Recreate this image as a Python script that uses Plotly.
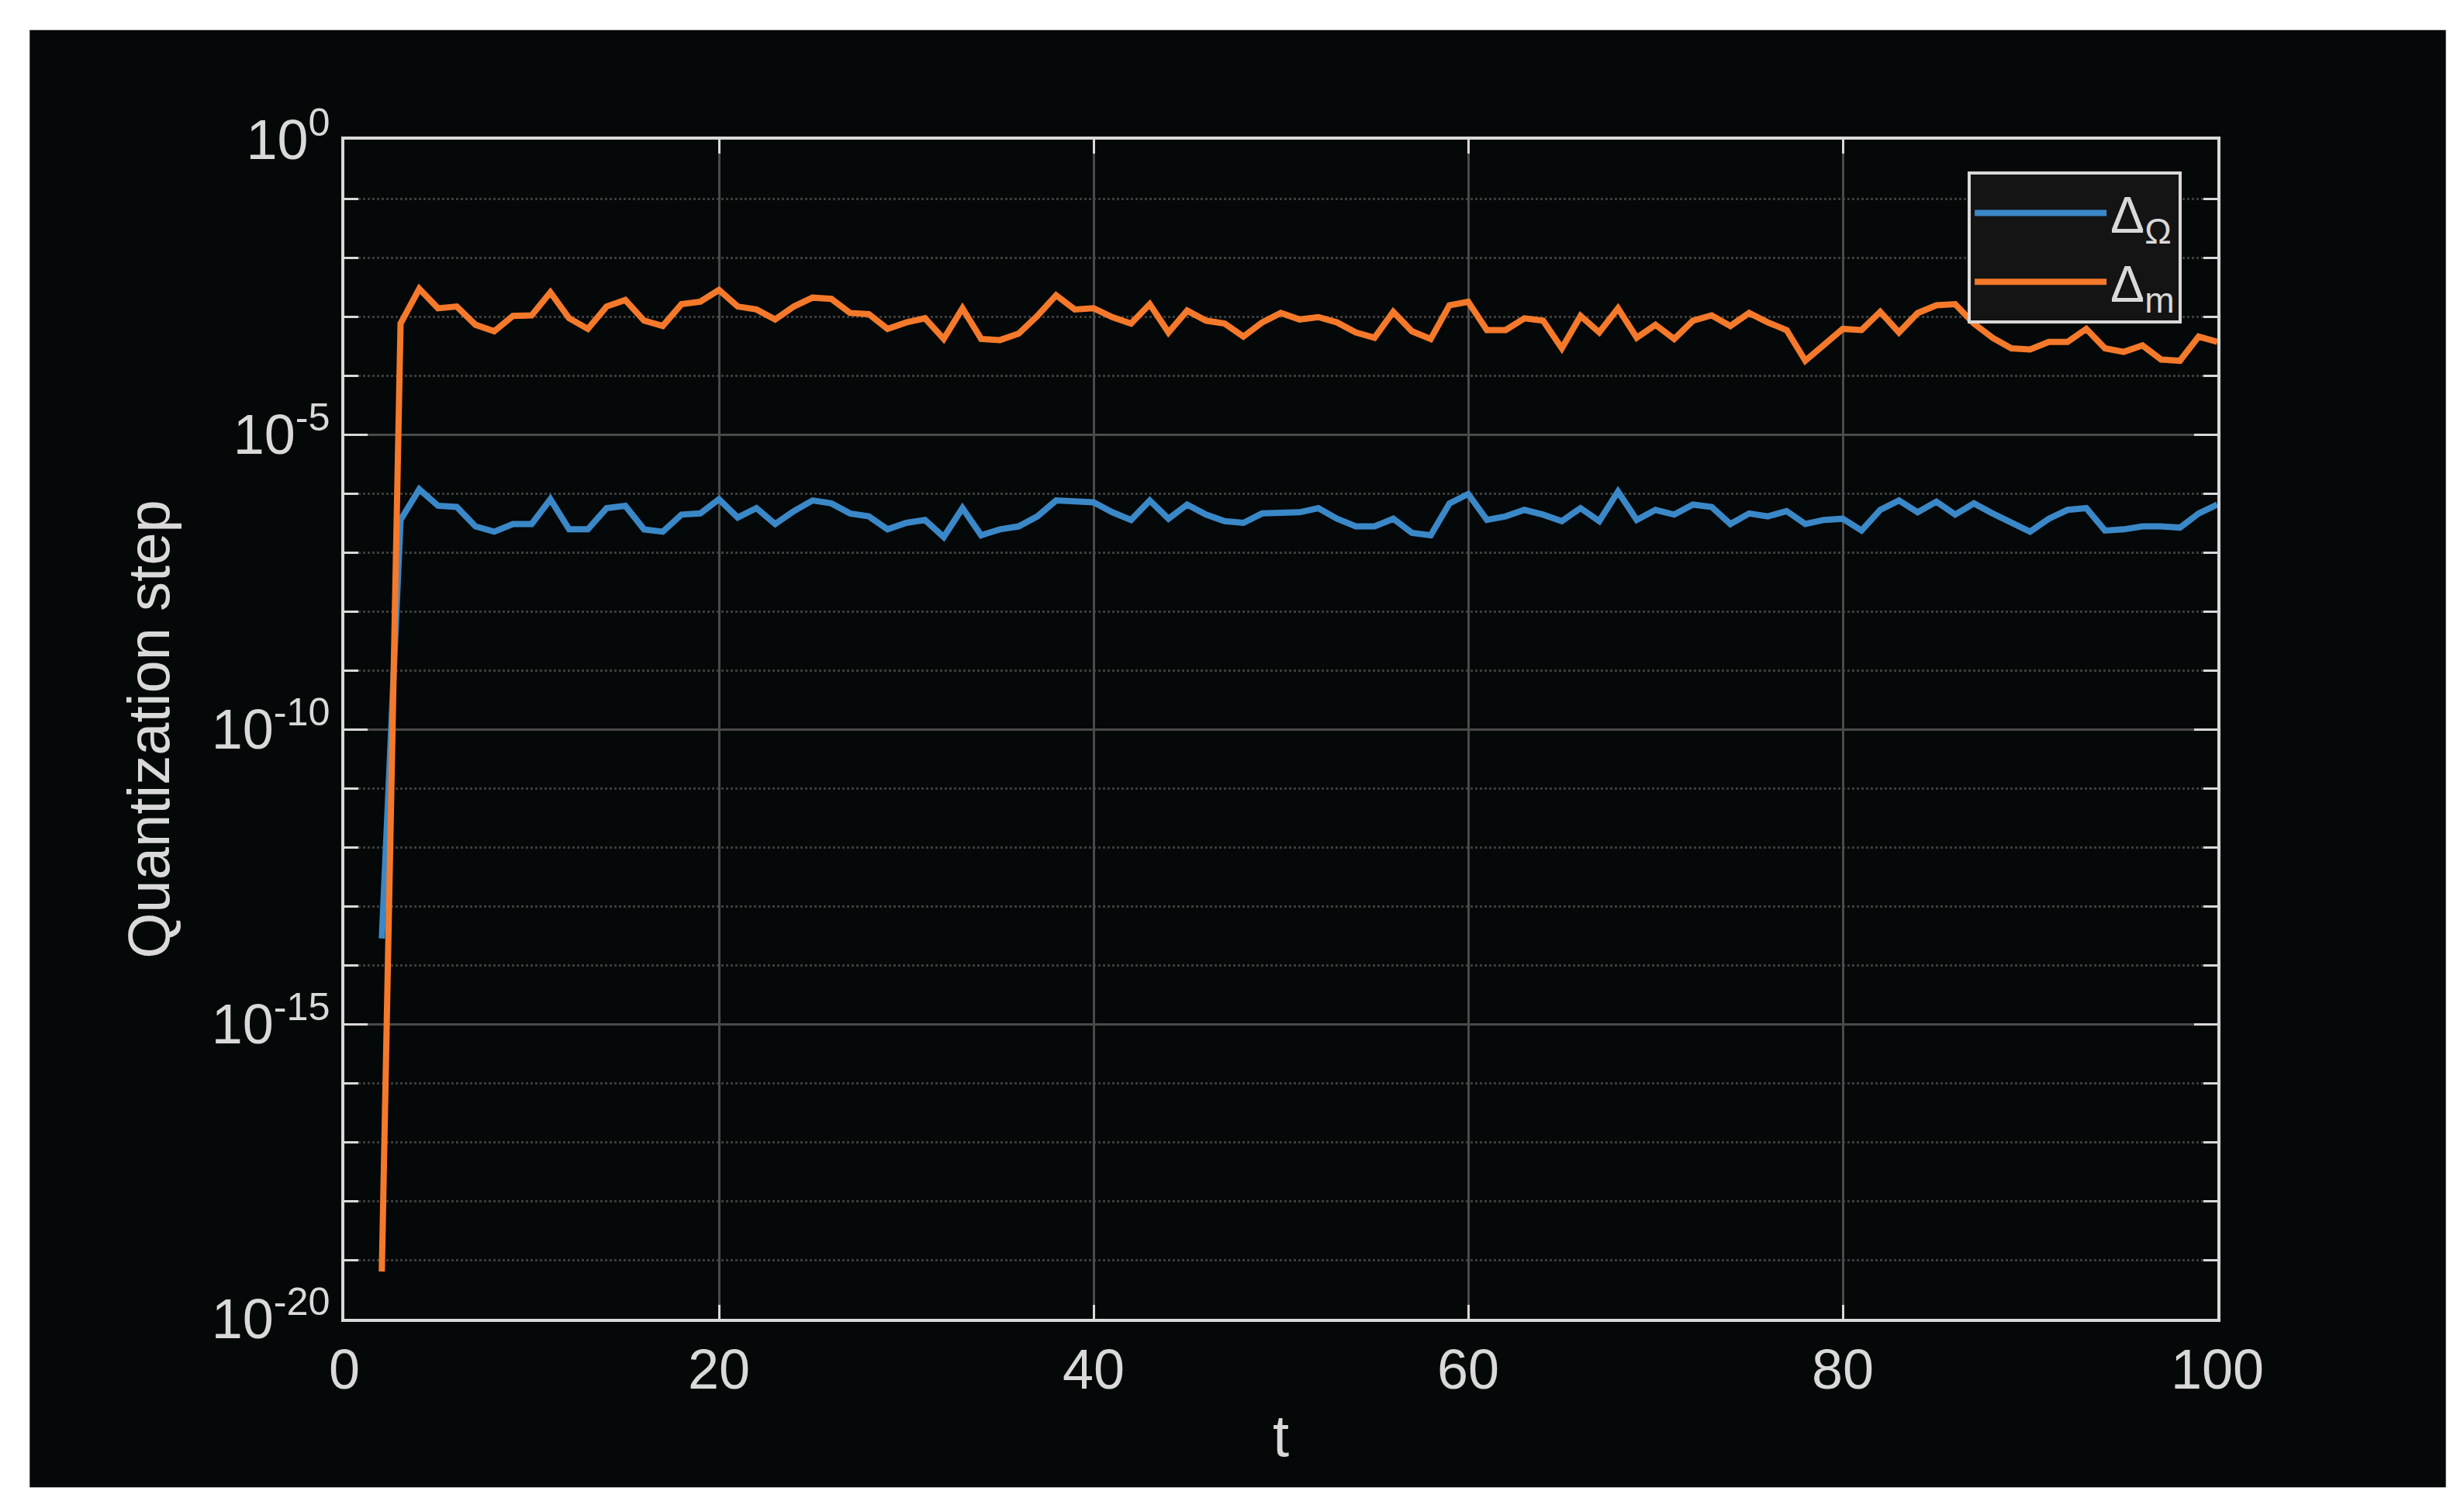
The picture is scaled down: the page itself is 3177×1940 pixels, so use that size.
import numpy as np
import plotly.graph_objects as go

# time steps
t = list(range(2, 101))

# log10 of quantization step
log_delta_omega = [
    -13.55, -6.45, -5.93, -6.21, -6.23, -6.56, -6.65, -6.52, -6.52, -6.10,
    -6.61, -6.61, -6.25, -6.21, -6.61, -6.65, -6.36, -6.34, -6.10, -6.41,
    -6.25, -6.52, -6.30, -6.12, -6.17, -6.34, -6.39, -6.61, -6.50, -6.45,
    -6.74, -6.25, -6.71, -6.61, -6.56, -6.39, -6.12, -6.14, -6.15, -6.32,
    -6.45, -6.12, -6.43, -6.19, -6.36, -6.47, -6.50, -6.34, -6.32, -6.32,
    -6.25, -6.43, -6.56, -6.56, -6.43, -6.67, -6.71, -6.17, -6.01, -6.45,
    -6.39, -6.28, -6.36, -6.47, -6.25, -6.47, -5.97, -6.45, -6.28, -6.36,
    -6.19, -6.23, -6.52, -6.34, -6.39, -6.30, -6.52, -6.45, -6.43, -6.63,
    -6.28, -6.12, -6.32, -6.14, -6.36, -6.17, -6.34, -6.50, -6.65, -6.43,
    -6.28, -6.25, -6.63, -6.61, -6.56, -6.56, -6.58, -6.34, -6.19,
]
log_delta_m = [
    -19.2, -3.12, -2.53, -2.86, -2.83, -3.14, -3.25, -2.99, -2.98, -2.59,
    -3.03, -3.21, -2.83, -2.72, -3.07, -3.16, -2.79, -2.75, -2.55, -2.83,
    -2.88, -3.05, -2.83, -2.68, -2.70, -2.94, -2.96, -3.21, -3.10, -3.03,
    -3.38, -2.86, -3.38, -3.40, -3.29, -2.99, -2.64, -2.88, -2.86, -3.01,
    -3.12, -2.79, -3.27, -2.90, -3.07, -3.12, -3.34, -3.10, -2.94, -3.05,
    -3.01, -3.10, -3.27, -3.36, -2.92, -3.25, -3.38, -2.81, -2.75, -3.23,
    -3.23, -3.03, -3.07, -3.54, -2.99, -3.27, -2.86, -3.36, -3.14, -3.38,
    -3.07, -2.98, -3.16, -2.94, -3.10, -3.23, -3.75, -3.47, -3.21, -3.23,
    -2.92, -3.27, -2.94, -2.81, -2.79, -3.12, -3.36, -3.54, -3.56, -3.43,
    -3.43, -3.21, -3.54, -3.60, -3.49, -3.73, -3.75, -3.34, -3.43,
]

major_exp = [0, -5, -10, -15, -20]
major_text = ["10<sup>0</sup>", "10<sup>-5</sup>", "10<sup>-10</sup>", "10<sup>-15</sup>", "10<sup>-20</sup>"]
minor_exp = [e for e in range(-19, 0) if e % 5 != 0]

FG = "#d9d9d9"
FONT = "Liberation Sans, Arial, sans-serif"

fig = go.Figure()
fig.add_trace(go.Scatter(x=t, y=np.power(10.0, log_delta_omega), mode="lines",
                         name="Δ<sub>Ω</sub>", line={"color": "#3a88c8", "width": 8}))
fig.add_trace(go.Scatter(x=t, y=np.power(10.0, log_delta_m), mode="lines",
                         name="Δ<sub>m</sub>", line={"color": "#f5792a", "width": 8}))

# black card behind the whole chart, white rim outside it
fig.add_shape(type="rect", xref="paper", yref="paper", x0=-0.168, x1=1.122, y0=-0.143, y1=1.093,
              fillcolor="#050808", line={"width": 0}, layer="below")

fig.update_layout(
    width=3177,
    height=1940,
    paper_bgcolor="white",
    plot_bgcolor="#141414",
    margin={"l": 436, "r": 326, "t": 172, "b": 248},
    font={"family": FONT, "color": FG, "size": 72},
    showlegend=True,
    legend={"x": 0.981, "y": 0.973, "xanchor": "right", "yanchor": "top",
            "bgcolor": "#141414", "bordercolor": FG, "borderwidth": 4,
            "font": {"size": 66, "color": FG}, "itemwidth": 170},
)

fig.update_xaxes(
    range=[0, 100], tickvals=[0, 20, 40, 60, 80, 100], ticks="inside", ticklen=18,
    tickcolor=FG, tickwidth=3, showline=True, linecolor=FG, linewidth=4, mirror="ticks",
    showgrid=True, gridcolor="#4a4a4a", gridwidth=3, zeroline=False,
    tickfont={"size": 72}, title={"text": "t", "font": {"size": 76}, "standoff": 20},
)
fig.update_yaxes(
    type="log", range=[-20, 0], tickmode="array",
    tickvals=[10.0 ** e for e in major_exp], ticktext=major_text,
    ticks="inside", ticklen=30, tickcolor=FG, tickwidth=3,
    showline=True, linecolor=FG, linewidth=4, mirror="ticks",
    showgrid=True, gridcolor="#4a4a4a", gridwidth=3, zeroline=False,
    minor={"tickmode": "array", "tickvals": [10.0 ** e for e in minor_exp],
           "ticks": "inside", "ticklen": 18, "tickcolor": FG,
           "showgrid": True, "gridcolor": "#3c3c3c", "griddash": "dot", "gridwidth": 3},
    tickfont={"size": 72}, title={"text": "Quantization step", "font": {"size": 76}, "standoff": 30},
)

fig.write_html("out.html")
